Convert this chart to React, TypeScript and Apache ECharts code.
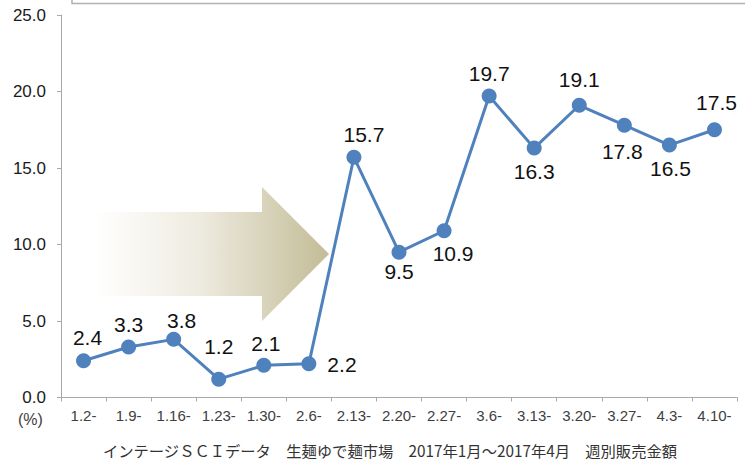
import React, { useEffect, useRef } from "react";
import * as echarts from "echarts";

const categories = ["1.2-", "1.9-", "1.16-", "1.23-", "1.30-", "2.6-", "2.13-", "2.20-", "2.27-", "3.6-", "3.13-", "3.20-", "3.27-", "4.3-", "4.10-"];
const values = [2.4, 3.3, 3.8, 1.2, 2.1, 2.2, 15.7, 9.5, 10.9, 19.7, 16.3, 19.1, 17.8, 16.5, 17.5];
// label placement per point: [position, dx, dy]
const labelPlacement: [string, number, number][] = [
  ["top", 4, 0],
  ["top", 0, 0],
  ["top", 8, 4],
  ["top", 0, -10],
  ["top", 2, 1],
  ["right", 6, 1],
  ["top", 10, 0],
  ["bottom", 0, -4],
  ["bottom", 9, 0],
  ["top", 0, 0],
  ["bottom", 0, 0],
  ["top", 0, -3],
  ["bottom", -2, 3],
  ["bottom", 1, 0],
  ["top", 2, -4],
];
const yTicks = { min: 0, max: 25, interval: 5 };
const unitLabel = "(%)";
const caption = "インテージＳＣＩデータ　生麺ゆで麺市場　2017年1月～2017年4月　週別販売金額";

const FONT = "'Liberation Sans', Arial, Helvetica, sans-serif";

export default function App() {
  const ref = useRef<HTMLDivElement>(null);
  useEffect(() => {
    if (!ref.current) return;
    const chart = echarts.init(ref.current, undefined, { renderer: "svg" });
    const data = values.map((v, i) => {
      const [pos, dx, dy] = labelPlacement[i];
      return {
        value: v,
        label: { position: pos, offset: [dx, dy] },
      };
    });
    chart.setOption({
      animation: false,
      backgroundColor: "#ffffff",
      grid: { left: 61, right: 8, top: 15, bottom: 64.5, containLabel: false },
      xAxis: {
        type: "category",
        data: categories,
        boundaryGap: true,
        axisLine: { show: true, lineStyle: { color: "#a8a8a8", width: 1 } },
        axisTick: { show: true, length: 4, lineStyle: { color: "#a8a8a8" } },
        axisLabel: { color: "#404040", fontSize: 15, fontFamily: FONT, margin: 10, interval: 0 },
        splitLine: { show: false },
      },
      yAxis: {
        type: "value",
        min: yTicks.min,
        max: yTicks.max,
        interval: yTicks.interval,
        axisLine: { show: true, lineStyle: { color: "#a8a8a8", width: 1 } },
        axisTick: { show: true, length: 4, lineStyle: { color: "#a8a8a8" } },
        axisLabel: {
          color: "#1a1a1a",
          fontSize: 17,
          fontFamily: FONT,
          margin: 15,
          formatter: (v: number) => v.toFixed(1),
        },
        splitLine: { show: false },
      },
      graphic: [
        {
          type: "rect",
          shape: { x: 72, y: -10, width: 690, height: 13.5 },
          style: { fill: "none", stroke: "#b0b0b0", lineWidth: 1.5 },
          silent: true,
        },
        {
          type: "polygon",
          shape: {
            points: [
              [93, 212],
              [262, 212],
              [262, 187],
              [329, 254],
              [262, 321],
              [262, 296],
              [93, 296],
            ],
          },
          style: {
            fill: new echarts.graphic.LinearGradient(0, 0, 1, 0, [
              { offset: 0, color: "rgba(255,255,255,1)" },
              { offset: 0.45, color: "#eeebe0" },
              { offset: 1, color: "#c3bc97" },
            ]),
          },
          z: 0,
          silent: true,
        },
        {
          type: "text",
          left: 18,
          top: 411,
          style: { text: unitLabel, fill: "#404040", font: `16px ${FONT}` },
        },
        {
          type: "text",
          x: 390,
          y: 450,
          style: {
            text: caption,
            fill: "#333333",
            font: "15.3px 'Noto Sans CJK JP', sans-serif",
            align: "center",
            verticalAlign: "middle",
          },
        },
      ],
      series: [
        {
          type: "line",
          data,
          z: 5,
          symbol: "circle",
          symbolSize: 15,
          lineStyle: { color: "#4f81bd", width: 3 },
          itemStyle: { color: "#4f81bd" },
          label: {
            show: true,
            color: "#111111",
            fontSize: 21,
            fontFamily: FONT,
            distance: 5,
            formatter: (p: any) => Number(p.value).toFixed(1),
          },
        },
      ],
    });
    return () => chart.dispose();
  }, []);
  return (
    <div
      ref={ref}
      style={{ position: "absolute", left: 0, top: 0, width: 745, height: 462 }}
    />
  );
}
